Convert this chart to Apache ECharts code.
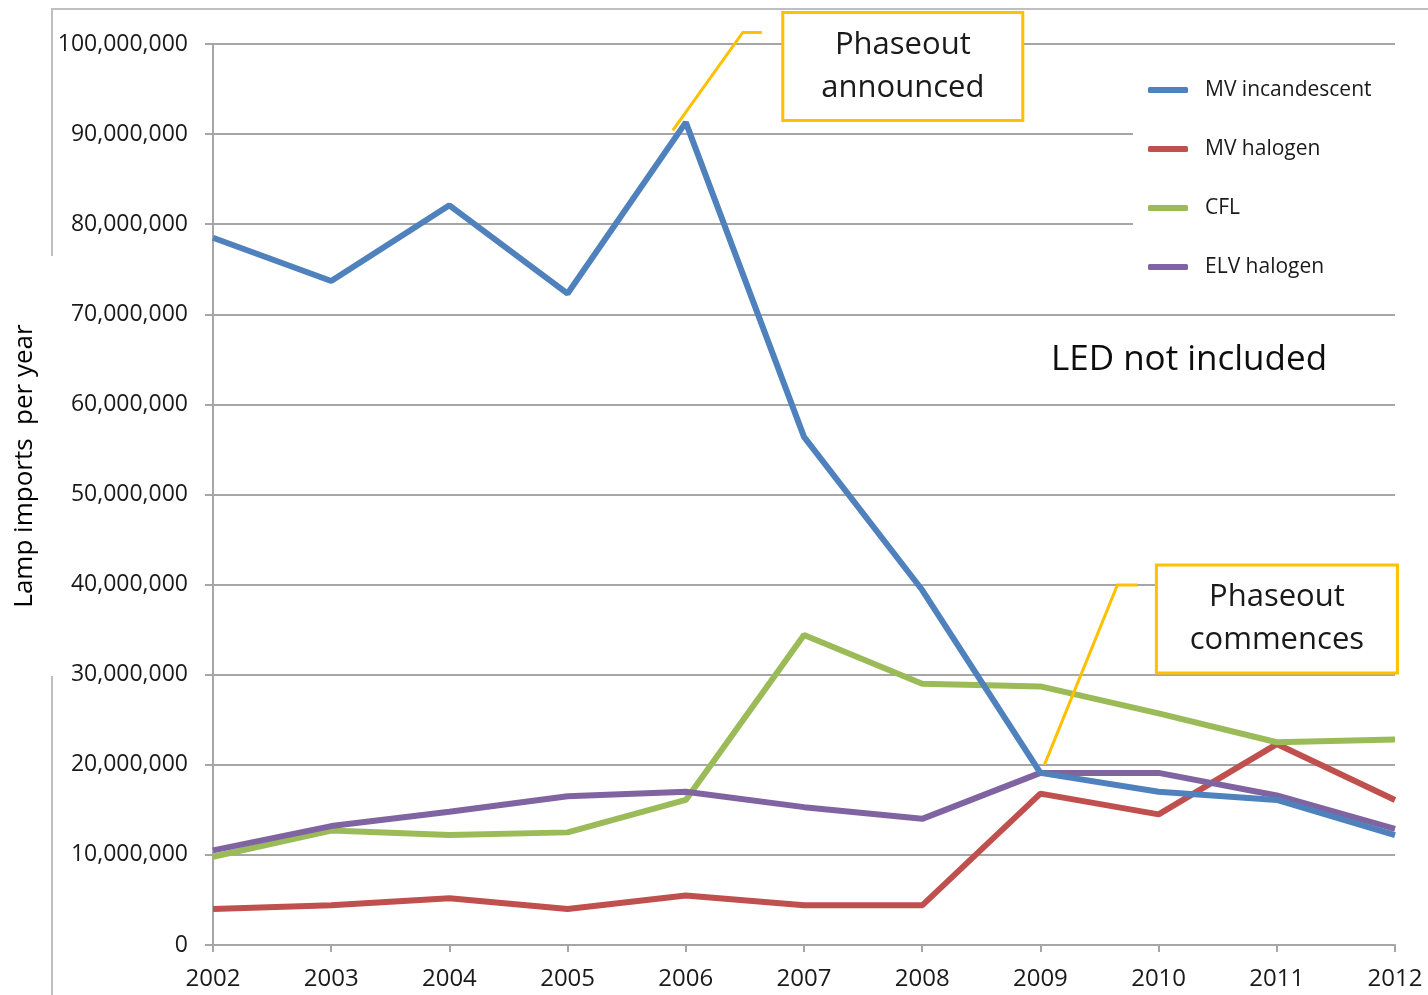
<!DOCTYPE html>
<html>
<head>
<meta charset="utf-8">
<script src="https://cdn.jsdelivr.net/npm/echarts@6/dist/echarts.min.js"></script>
<style>
html,body{margin:0;padding:0;background:#fff;}
#chart{width:1428px;height:995px;}
</style>
</head>
<body>
<div id="chart"></div>
<script>
const years = ['2002','2003','2004','2005','2006','2007','2008','2009','2010','2011','2012'];
const mvIncandescent = [78500000,73700000,82100000,72300000,91300000,56400000,39400000,19100000,17000000,16100000,12200000];
const mvHalogen = [4000000,4400000,5200000,4000000,5500000,4400000,4400000,16800000,14500000,22300000,16100000];
const cfl = [9800000,12700000,12200000,12500000,16100000,34400000,29000000,28700000,25700000,22500000,22800000];
const elvHalogen = [10500000,13200000,14800000,16500000,17000000,15300000,14000000,19100000,19100000,16600000,12900000];
const seriesNames = ['MV incandescent','MV halogen','CFL','ELV halogen'];
const seriesColors = ['#4F81BD','#C0504D','#9BBB59','#8064A2'];

const FONT = '"Open Sans", "Noto Sans", sans-serif';
const TXT = '#1a1a1a';
const chart = echarts.init(document.getElementById('chart'));

const allData = [mvIncandescent, mvHalogen, cfl, elvHalogen];
chart.setOption({
  animation: false,
  backgroundColor: '#fff',
  textStyle: {fontFamily: FONT},
  grid: {left: 213, right: 33, top: 44, bottom: 50, containLabel: false},
  xAxis: {
    type: 'category',
    data: years,
    boundaryGap: false,
    axisLine: {lineStyle: {color: '#a6a6a6', width: 2}},
    axisTick: {show: true, length: 7, lineStyle: {color: '#a6a6a6', width: 2}},
    axisLabel: {color: TXT, fontSize: 24, margin: 22, fontFamily: FONT},
    splitLine: {show: false}
  },
  yAxis: {
    type: 'value',
    min: 0, max: 100000000, interval: 10000000,
    axisLine: {show: true, lineStyle: {color: '#a6a6a6', width: 2}},
    axisTick: {show: true, length: 8, lineStyle: {color: '#a6a6a6', width: 2}},
    axisLabel: {color: TXT, fontSize: 23, margin: 25, fontFamily: FONT,
      formatter: v => v.toLocaleString('en-US')},
    splitLine: {lineStyle: {color: '#a6a6a6', width: 2}}
  },
  legend: {
    orient: 'vertical',
    left: 1133, top: 66,
    padding: [12, 40, 12, 15],
    backgroundColor: '#fff',
    itemWidth: 40, itemHeight: 6,
    itemGap: 35,
    icon: 'roundRect',
    data: seriesNames,
    textStyle: {fontSize: 21, color: TXT, fontFamily: FONT, lineHeight: 24, padding: [0,0,0,12]}
  },
  series: seriesNames.map((n, i) => ({
    name: n,
    type: 'line',
    data: allData[i],
    symbol: 'none',
    lineStyle: {color: seriesColors[i], width: 6},
    itemStyle: {color: seriesColors[i]},
    z: 2 + (i === 0 ? 1 : 0)
  }))
});

const a1 = chart.convertToPixel({gridIndex: 0}, ['2006', mvIncandescent[4]]);
const a2 = chart.convertToPixel({gridIndex: 0}, ['2009', mvIncandescent[7]]);
const YEL = '#FFC000';
function callout(a, start, bend, end, box, l1, l2) {
  return [
    {type: 'polyline', z: 10, shape: {points: [[a[0]+start[0], a[1]+start[1]], [a[0]+bend[0], a[1]+bend[1]], [a[0]+end[0], a[1]+end[1]]]},
     style: {stroke: YEL, lineWidth: 3, fill: null}},
    {type: 'rect', z: 10, shape: {x: a[0]+box[0], y: a[1]+box[1], width: box[2], height: box[3]},
     style: {fill: '#fff', stroke: YEL, lineWidth: 3}},
    {type: 'text', z: 11, x: a[0]+box[0]+box[2]/2, y: a[1]+box[1]+box[3]/2,
     style: {text: l1 + '\n' + l2, fontSize: 31, lineHeight: 43, fill: TXT, align: 'center', verticalAlign: 'middle', fontFamily: FONT}}
  ];
}
const g = [];
g.push(...callout(a1, [-13, 8], [57, -90], [76, -90], [97, -110, 240, 108], 'Phaseout', 'announced'));
g.push(...callout(a2, [4, -8], [77, -188], [97, -188], [116, -208, 241, 108], 'Phaseout', 'commences'));
g.push({type: 'text', z: 11, x: 1189, y: 360,
  style: {text: 'LED not included', fontSize: 35, fill: '#0d0d0d', align: 'center', verticalAlign: 'middle', fontFamily: FONT}});
g.push({type: 'text', z: 11, x: 25, y: 466, rotation: Math.PI / 2,
  style: {text: 'Lamp imports  per year', fontSize: 26, fill: '#000', align: 'center', verticalAlign: 'middle', fontFamily: FONT}});
g.push({type: 'polyline', z: 1, shape: {points: [[52, 256], [52, 9], [1428, 9]]}, style: {stroke: '#bfbfbf', lineWidth: 2, fill: null}});
g.push({type: 'line', z: 1, shape: {x1: 52, y1: 676, x2: 52, y2: 995}, style: {stroke: '#bfbfbf', lineWidth: 2}});
chart.setOption({graphic: g});
</script>
</body>
</html>
